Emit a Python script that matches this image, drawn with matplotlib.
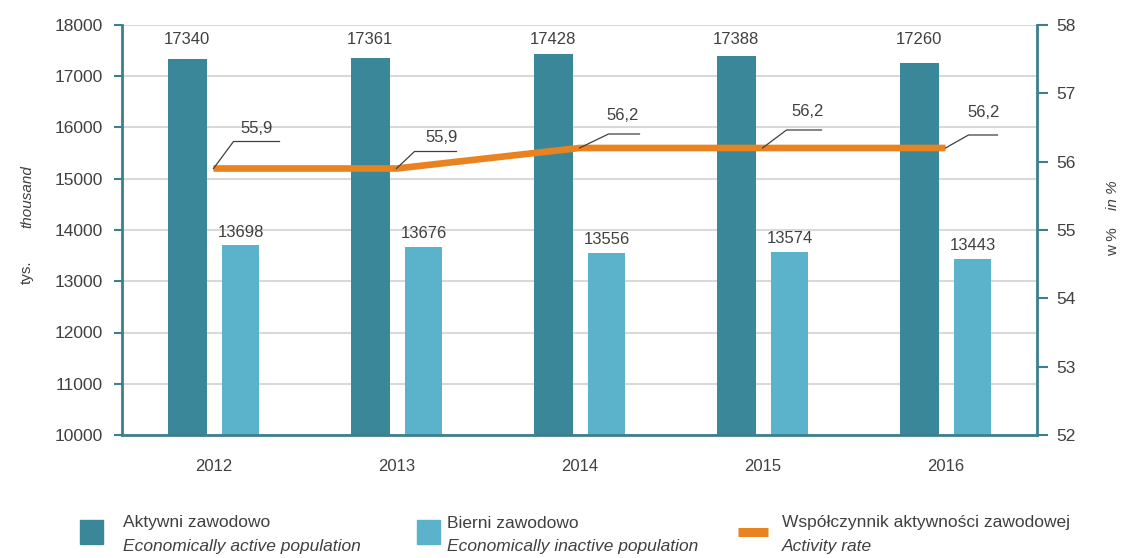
import matplotlib
matplotlib.use("Agg")
import matplotlib.pyplot as plt
import matplotlib.transforms as mtransforms
from matplotlib.patches import Rectangle
from matplotlib.lines import Line2D
import numpy as np

plt.rcParams['font.family'] = ['Liberation Sans', 'DejaVu Sans']

years = ['2012', '2013', '2014', '2015', '2016']
active = [17340, 17361, 17428, 17388, 17260]
inactive = [13698, 13676, 13556, 13574, 13443]
rate = [55.9, 55.9, 56.2, 56.2, 56.2]
rate_labels = ['55,9', '55,9', '56,2', '56,2', '56,2']

# leader-line geometry per label (pixels): diag dx, diag dy, horizontal length, text dx, text dy
leader = [(20, 27, 46, 43, 40), (18, 17, 42, 45, 31), (29, 14, 31, 43, 32),
          (24, 18, 35, 45, 36), (23, 13, 29, 38, 35)]

c_dark = '#3a8799'
c_light = '#5ab3cb'
c_orange = '#e8831f'
c_spine = '#3d7f8f'
c_text = '#404040'
c_grid = '#d9d9d9'

W, H = 1128, 558
fig = plt.figure(figsize=(W / 100, H / 100), dpi=100)
ax = fig.add_axes([122 / W, 1 - 435 / H, (1037 - 122) / W, (435 - 25) / H])
ax2 = ax.twinx()

x = np.arange(len(years))
ax.bar(x - 0.143, active, width=0.21, color=c_dark, zorder=2)
ax.bar(x + 0.148, inactive, width=0.2, color=c_light, zorder=2)

ax.set_xlim(-0.5, len(years) - 0.5)
ax.set_ylim(10000, 18000)
ax.set_yticks(np.arange(10000, 18001, 1000))
ax.yaxis.grid(True, color=c_grid, linewidth=1.5, zorder=0)
ax.set_axisbelow(True)
ax.set_xticks(x)
ax.set_xticklabels(years)
ax.tick_params(axis='x', length=0, pad=17, labelsize=12, labelcolor=c_text)
ax.tick_params(axis='y', length=6, width=1.5, color=c_spine, pad=8, labelsize=12.5, labelcolor=c_text)

ax.spines['top'].set_visible(False)
ax2.spines['top'].set_visible(False)
ax.spines['right'].set_visible(False)
ax.spines['left'].set_color(c_spine)
ax.spines['left'].set_linewidth(2)
ax.spines['bottom'].set_color(c_spine)
ax.spines['bottom'].set_linewidth(2)
ax2.spines['left'].set_visible(False)
ax2.spines['bottom'].set_visible(False)
ax2.spines['right'].set_color(c_spine)
ax2.spines['right'].set_linewidth(2)

ax2.set_ylim(52, 58)
ax2.set_yticks(np.arange(52, 59, 1))
ax2.tick_params(axis='y', length=8, width=1.5, color=c_spine, pad=6, labelsize=12.5, labelcolor=c_text)

ax2.plot(x, rate, color=c_orange, linewidth=4.8, solid_capstyle='butt', zorder=5)

# bar value labels
top_tr = mtransforms.blended_transform_factory(ax.transData, ax.transAxes)
for xi, v in zip(x, active):
    ax.annotate(str(v), (xi - 0.143, 1.0), xycoords=top_tr, xytext=(0, -15),
                textcoords='offset pixels', ha='center', va='center', fontsize=12, color=c_text)
for xi, v in zip(x, inactive):
    ax.annotate(str(v), (xi + 0.148, v), xytext=(0, 13), textcoords='offset pixels',
                ha='center', va='center', fontsize=12, color=c_text)

# rate labels with leader lines
for xi, v, lab, (ddx, ddy, hl, tdx, tdy) in zip(x, rate, rate_labels, leader):
    p = ax2.transData.transform((xi, v))
    xs = [p[0], p[0] + ddx, p[0] + ddx + hl]
    ys = [p[1], p[1] + ddy, p[1] + ddy]
    ax2.add_line(Line2D(xs, ys, transform=None, color='#404040', linewidth=0.9, zorder=6))
    ax2.text(p[0] + tdx, p[1] + tdy, lab, transform=None, ha='center', va='center',
             fontsize=12, color=c_text, zorder=6)

# axis titles
fig.text(27 / W, 1 - 197 / H, 'thousand', rotation=90, ha='center', va='center',
         fontsize=11, color=c_text, style='italic')
fig.text(27 / W, 1 - 272 / H, 'tys.', rotation=90, ha='center', va='center',
         fontsize=11, color=c_text)
fig.text(1113 / W, 1 - 195 / H, 'in %', rotation=90, ha='center', va='center',
         fontsize=11, color=c_text, style='italic')
fig.text(1113 / W, 1 - 242 / H, 'w %', rotation=90, ha='center', va='center',
         fontsize=11, color=c_text)

# legend
fig.patches.append(Rectangle((80 / W, 1 - 544 / H), 23 / W, 24 / H, transform=fig.transFigure,
                             color=c_dark, figure=fig))
fig.patches.append(Rectangle((417 / W, 1 - 544 / H), 23 / W, 24 / H, transform=fig.transFigure,
                             color=c_light, figure=fig))
fig.lines.append(Line2D([738 / W, 768 / W], [1 - 532 / H, 1 - 532 / H], transform=fig.transFigure,
                        color=c_orange, linewidth=6.5, figure=fig, solid_capstyle='butt'))
leg_items = [(123, 'Aktywni zawodowo', 'Economically active population'),
             (447, 'Bierni zawodowo', 'Economically inactive population'),
             (782, 'Współczynnik aktywności zawodowej', 'Activity rate')]
for lx, l1, l2 in leg_items:
    fig.text(lx / W, 1 - 523 / H, l1, ha='left', va='center', fontsize=12.5, color=c_text)
    fig.text(lx / W, 1 - 547 / H, l2, ha='left', va='center', fontsize=12.5, color=c_text,
             style='italic')

fig.savefig('out.png', dpi=100)
